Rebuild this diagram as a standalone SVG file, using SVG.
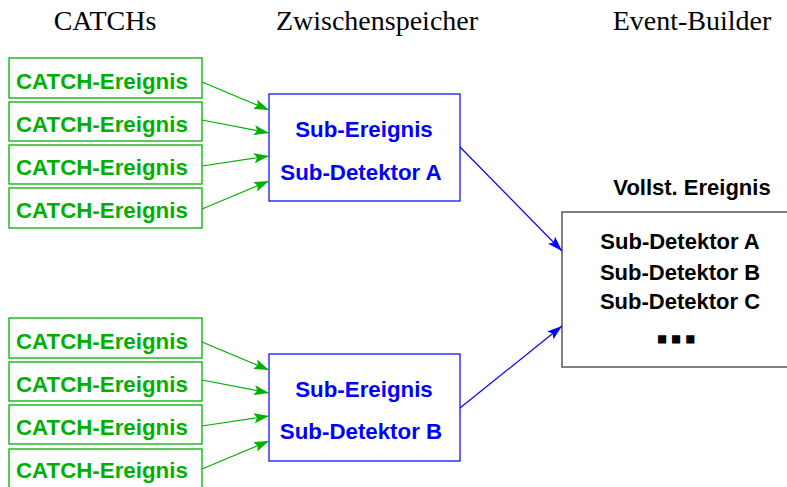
<svg xmlns="http://www.w3.org/2000/svg" width="787" height="487" viewBox="0 0 787 487">
<style>
.hdr{font-family:"Liberation Serif","Times New Roman",serif;font-size:28px;fill:#000;text-anchor:middle}
.cb{fill:#fff;stroke:#00b000;stroke-width:1.3}
.ct{font-family:"Liberation Sans",Arial,sans-serif;font-weight:bold;font-size:22.3px;fill:#00b000}
.bb{fill:#fff;stroke:#0000ff;stroke-width:1.2}
.bt{font-family:"Liberation Sans",Arial,sans-serif;font-weight:bold;font-size:22.3px;fill:#0000ff;text-anchor:middle}
.eb{fill:#fff;stroke:#555;stroke-width:1.5}
.et{font-family:"Liberation Sans",Arial,sans-serif;font-weight:bold;font-size:22px;fill:#000;text-anchor:middle}
.dots{font-family:"Liberation Sans",Arial,sans-serif;font-weight:bold;font-size:22px;fill:#000;stroke:#000;stroke-width:5;stroke-linejoin:miter;letter-spacing:8px}
.ga{stroke:#00b000;stroke-width:1.2;fill:none;marker-end:url(#ag)}
.ba{stroke:#0000ff;stroke-width:1.2;fill:none;marker-end:url(#ab)}
</style>
<defs>
<marker id="ag" markerUnits="userSpaceOnUse" markerWidth="20" markerHeight="14" viewBox="-16 -7 17 14" refX="0" refY="0" orient="auto">
<path d="M0,0 L-15,-5 L-12,0 L-15,5 Z" fill="#00b000"/>
</marker>
<marker id="ab" markerUnits="userSpaceOnUse" markerWidth="20" markerHeight="14" viewBox="-16 -7 17 14" refX="0" refY="0" orient="auto">
<path d="M0,0 L-15,-5 L-12,0 L-15,5 Z" fill="#0000ff"/>
</marker>
</defs>
<rect width="787" height="487" fill="#fff"/>
<text class="hdr" x="105" y="30">CATCHs</text>
<text class="hdr" x="377" y="30">Zwischenspeicher</text>
<text class="hdr" x="692" y="30">Event-Builder</text>

<g id="catch1"><rect class="cb" x="9" y="58" width="193" height="40"/><text class="ct" x="16" y="89">CATCH-Ereignis</text></g>
<g id="catch2"><rect class="cb" x="9" y="102" width="193" height="39"/><text class="ct" x="16" y="132">CATCH-Ereignis</text></g>
<g id="catch3"><rect class="cb" x="9" y="145" width="193" height="39"/><text class="ct" x="16" y="175">CATCH-Ereignis</text></g>
<g id="catch4"><rect class="cb" x="9" y="188" width="193" height="40"/><text class="ct" x="16" y="218">CATCH-Ereignis</text></g>
<g id="catch5"><rect class="cb" x="9" y="318" width="193" height="40"/><text class="ct" x="16" y="349">CATCH-Ereignis</text></g>
<g id="catch6"><rect class="cb" x="9" y="362" width="193" height="39"/><text class="ct" x="16" y="392">CATCH-Ereignis</text></g>
<g id="catch7"><rect class="cb" x="9" y="405" width="193" height="39"/><text class="ct" x="16" y="435">CATCH-Ereignis</text></g>
<g id="catch8"><rect class="cb" x="9" y="449" width="193" height="40"/><text class="ct" x="16" y="478">CATCH-Ereignis</text></g>

<g id="bufferA"><rect class="bb" x="269" y="94" width="191" height="107"/><text class="bt" x="364" y="137">Sub-Ereignis</text><text class="bt" x="361" y="180">Sub-Detektor A</text></g>
<g id="bufferB"><rect class="bb" x="269" y="354" width="191" height="107"/><text class="bt" x="364" y="397">Sub-Ereignis</text><text class="bt" x="361" y="439">Sub-Detektor B</text></g>

<g id="eventbuilder">
<text class="et" x="692" y="195">Vollst. Ereignis</text>
<rect class="eb" x="562" y="212" width="240" height="155"/>
<text class="et" x="680" y="249">Sub-Detektor A</text>
<text class="et" x="680" y="280">Sub-Detektor B</text>
<text class="et" x="680" y="309">Sub-Detektor C</text>
<text class="dots" x="659" y="340.5">...</text>
</g>

<g id="connectors">
<line class="ga" x1="202" y1="82" x2="269" y2="110"/>
<line class="ga" x1="202" y1="120" x2="269" y2="133"/>
<line class="ga" x1="202" y1="166" x2="269" y2="156"/>
<line class="ga" x1="202" y1="209" x2="269" y2="181"/>
<line class="ga" x1="202" y1="342" x2="269" y2="370"/>
<line class="ga" x1="202" y1="380" x2="269" y2="393"/>
<line class="ga" x1="202" y1="426" x2="269" y2="416"/>
<line class="ga" x1="202" y1="469" x2="269" y2="441"/>
<line class="ba" x1="460" y1="147" x2="562" y2="251"/>
<line class="ba" x1="460" y1="408" x2="562" y2="326"/>
</g>
</svg>
